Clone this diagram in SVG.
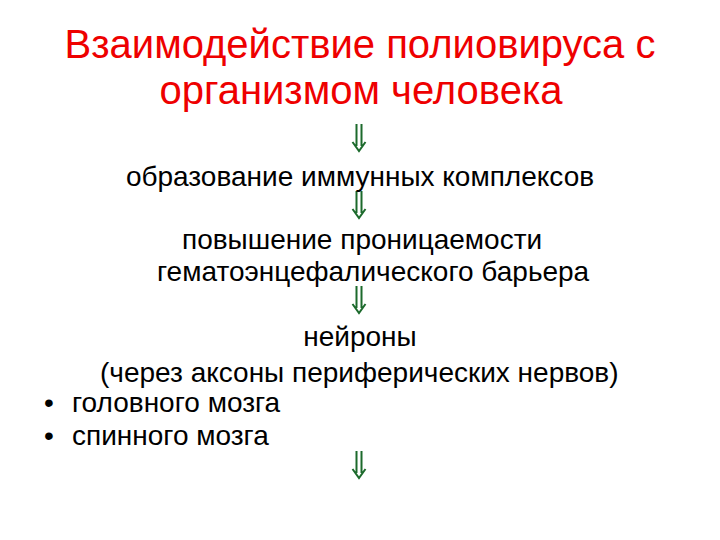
<svg xmlns="http://www.w3.org/2000/svg" width="720" height="540" viewBox="0 0 720 540">
<style>
.title{font-family:"Liberation Sans",Arial,sans-serif;font-size:40px;fill:#ee0000;text-anchor:middle}
.body{font-family:"Liberation Sans",Arial,sans-serif;font-size:28px;fill:#000}
.mid{text-anchor:middle}
.arr{fill:none;stroke:#1c6a2c;stroke-width:2;stroke-linecap:butt;stroke-linejoin:miter}
</style>
<defs>
<g id="dbl">
<path d="M-2.5,0 V22 M2.5,0 V22 M-6.5,18 L0,27 L6.5,18"/>
</g>
</defs>
<rect width="720" height="540" fill="#fff"/>
<g id="title">
<text class="title" x="360" y="58">Взаимодействие полиовируса с</text>
<text class="title" x="361" y="104">организмом человека</text>
</g>
<g id="connectors" class="arr">
<use href="#dbl" x="359" y="124"/>
<use href="#dbl" x="359" y="191"/>
<use href="#dbl" x="359" y="286"/>
<use href="#dbl" x="359" y="451"/>
</g>
<g id="node-immune">
<text class="body mid" x="360" y="186">образование иммунных комплексов</text>
</g>
<g id="node-permeability">
<text class="body" x="182" y="249">повышение проницаемости</text>
<text class="body" x="157" y="281">гематоэнцефалического барьера</text>
</g>
<g id="node-neurons">
<text class="body mid" x="360" y="346">нейроны</text>
<text class="body" x="100" y="382">(через аксоны периферических нервов)</text>
<text class="body" x="44" y="412">•</text>
<text class="body" x="72" y="412">головного мозга</text>
<text class="body" x="44" y="445">•</text>
<text class="body" x="72" y="445">спинного мозга</text>
</g>
</svg>
